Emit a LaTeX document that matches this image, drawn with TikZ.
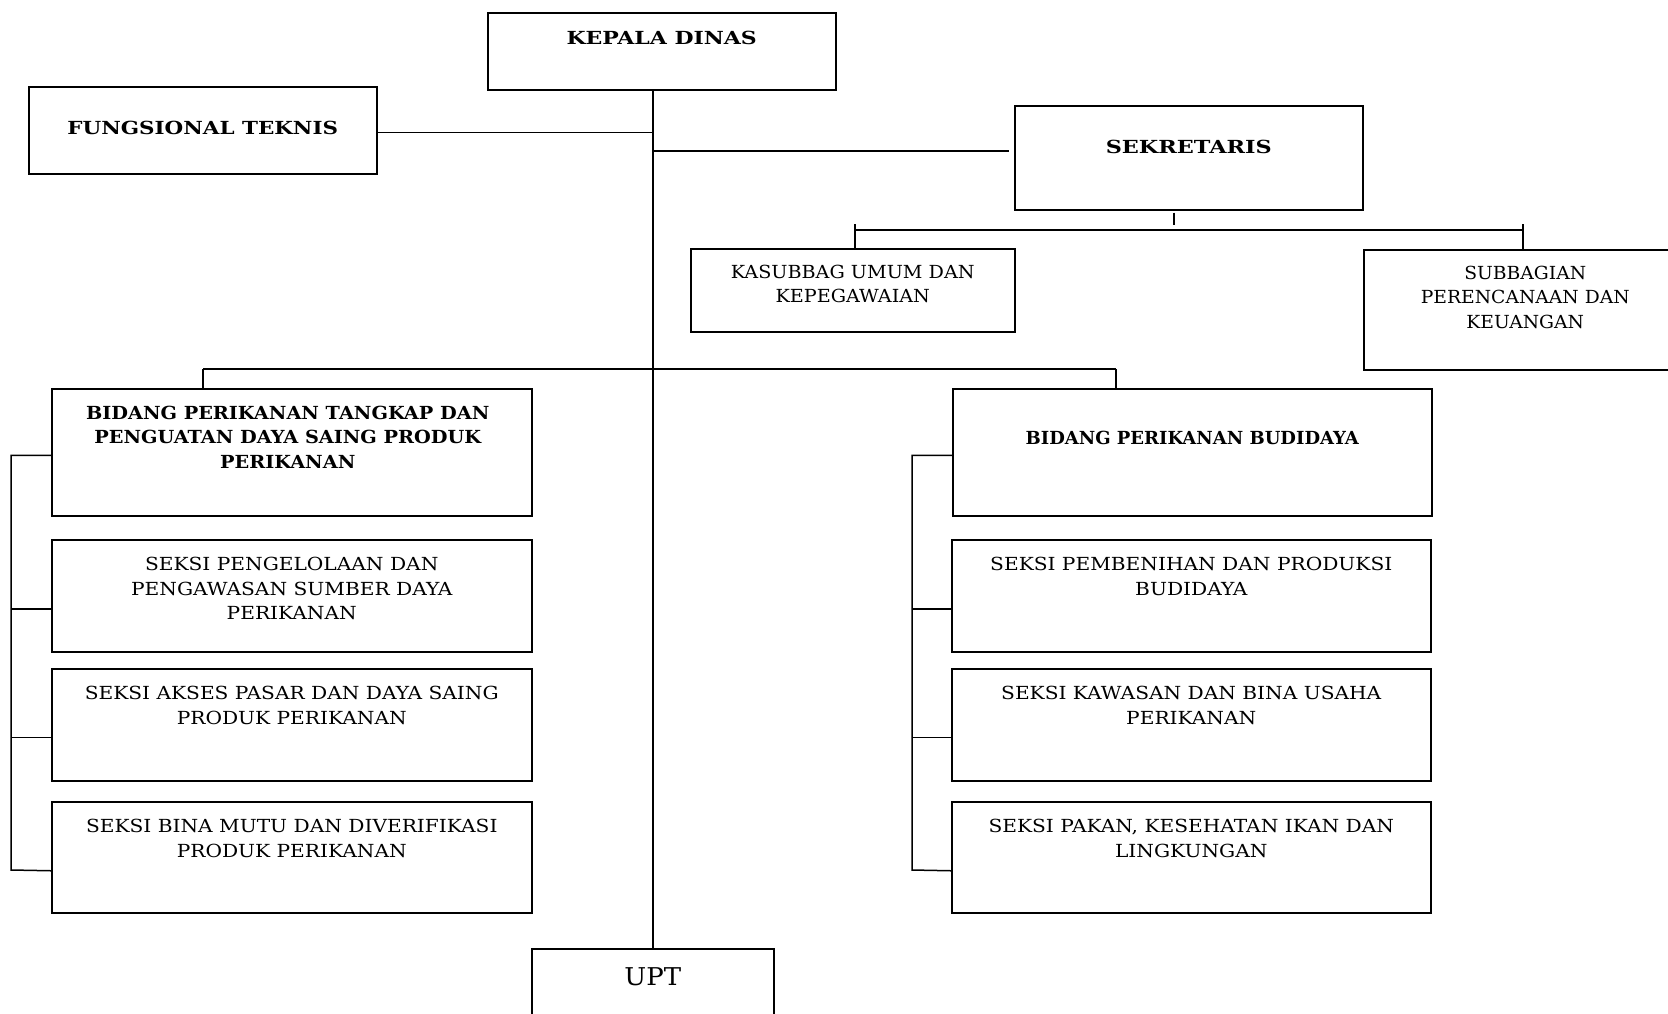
\documentclass[tikz,border=0pt]{standalone}
\usepackage{fontspec}
\setmainfont{DejaVu Serif}
\begin{document}
\begin{tikzpicture}[x=1pt,y=-1pt,
  box/.style={draw, line width=1.5pt, inner sep=0pt, anchor=north west},
  txt/.style={anchor=north, align=center, inner sep=0pt, font=\fontsize{18}{24.7}\selectfont\addfontfeatures{FakeStretch=#1}},
  txt/.default=1.12,
  btxt/.style={anchor=north, align=center, inner sep=0pt, font=\fontsize{18}{24.7}\selectfont\bfseries\addfontfeatures{FakeStretch=#1}},
  btxt/.default=1.0,
  ln/.style={line width=1.5pt}]
\useasboundingbox (0,0) rectangle (1668,1013);
\clip (0,0) rectangle (1668,1013);
% boxes
\node[box, minimum width=348pt, minimum height=77pt, label={[btxt=1.22, yshift=-19pt]north:KEPALA DINAS}] (k) at (487,12) {};
\node[box, minimum width=348pt, minimum height=87pt, label={[btxt=1.19, yshift=-35pt]north:FUNGSIONAL TEKNIS}] (f) at (28,86) {};
\node[box, minimum width=348pt, minimum height=104pt, label={[btxt=1.24, yshift=-35pt]north:SEKRETARIS}] (s) at (1014,105) {};
\node[box, minimum width=324pt, minimum height=83pt, label={[txt=1.065, yshift=-16.5pt]north:{KASUBBAG UMUM DAN\\KEPEGAWAIAN}}] (ksb) at (690,248) {};
\node[box, minimum width=323pt, minimum height=120pt, label={[txt=1.04, yshift=-16.5pt]north:{SUBBAGIAN\\PERENCANAAN DAN\\KEUANGAN}}] (sub) at (1363,249) {};
\node[box, minimum width=480pt, minimum height=127pt, label={[btxt=1.07, yshift=-17.5pt, xshift=-4pt]north:{BIDANG PERIKANAN TANGKAP DAN\\PENGUATAN DAYA SAING PRODUK\\PERIKANAN}}] (bl) at (51,388) {};
\node[box, minimum width=480pt, minimum height=112pt, label={[txt, yshift=-18pt]north:{SEKSI PENGELOLAAN DAN\\PENGAWASAN SUMBER DAYA\\PERIKANAN}}] (l1) at (51,539) {};
\node[box, minimum width=480pt, minimum height=112pt, label={[txt, yshift=-18pt]north:{SEKSI AKSES PASAR DAN DAYA SAING\\PRODUK PERIKANAN}}] (l2) at (51,668) {};
\node[box, minimum width=480pt, minimum height=111pt, label={[txt, yshift=-18pt]north:{SEKSI BINA MUTU DAN DIVERIFIKASI\\PRODUK PERIKANAN}}] (l3) at (51,801) {};
\node[box, minimum width=479pt, minimum height=127pt, label={[btxt=1.0, yshift=-42.5pt]north:BIDANG PERIKANAN BUDIDAYA}] (br) at (952,388) {};
\node[box, minimum width=479pt, minimum height=112pt, label={[txt, yshift=-18pt]north:{SEKSI PEMBENIHAN DAN PRODUKSI\\BUDIDAYA}}] (r1) at (951,539) {};
\node[box, minimum width=479pt, minimum height=112pt, label={[txt, yshift=-18pt]north:{SEKSI KAWASAN DAN BINA USAHA\\PERIKANAN}}] (r2) at (951,668) {};
\node[box, minimum width=479pt, minimum height=111pt, label={[txt, yshift=-18pt]north:{SEKSI PAKAN, KESEHATAN IKAN DAN\\LINGKUNGAN}}] (r3) at (951,801) {};
\node[box, minimum width=242pt, minimum height=100pt, label={[txt=1.06, yshift=-19pt, font=\fontsize{24.5}{30}\selectfont\addfontfeatures{FakeStretch=1.06}]north:UPT}] (upt) at (531,948) {};
% connectors
\coordinate (sj) at (653,151);
\coordinate (ml) at (203,369);
\coordinate (mr) at (1116,369);
\coordinate (sl) at (855,230);
\coordinate (sr) at (1523,230);
\draw[ln] (upt.north |- k.south) -- (upt.north);
\draw[ln] ([yshift=-2pt]f.east) -- ([yshift=-2pt]f.east -| upt.north);
\draw[ln, shorten >=5pt] (sj) -- (sj -| s.west);
\draw[ln] ([xshift=-15pt,yshift=-2pt]s.south) -- ++(0,12);
\draw[ln] (sl) -- (sr);
\draw[ln] (sl |- ksb.north) -- ++(0,-24);
\draw[ln] (sr |- sub.north) -- ++(0,-25);
\draw[ln] (ml) -- (mr);
\draw[ln] (ml) -- (ml |- bl.north);
\draw[ln] (mr) -- (mr |- br.north);
% left bracket
\draw[ln] ([yshift=-3pt]bl.west) -| (11,870) -- ([yshift=-13.5pt]l3.west);
\draw[ln] ([yshift=-13pt]l1.west) -- ++(-40,0);
\draw[ln] ([yshift=-12.5pt]l2.west) -- ++(-40,0);
% right bracket
\draw[ln] ([yshift=-3pt]br.west) -| (912,870) -- ([yshift=-13.5pt]r3.west);
\draw[ln] ([yshift=-13pt]r1.west) -- ++(-39,0);
\draw[ln] ([yshift=-12.5pt]r2.west) -- ++(-39,0);
\end{tikzpicture}
\end{document}
